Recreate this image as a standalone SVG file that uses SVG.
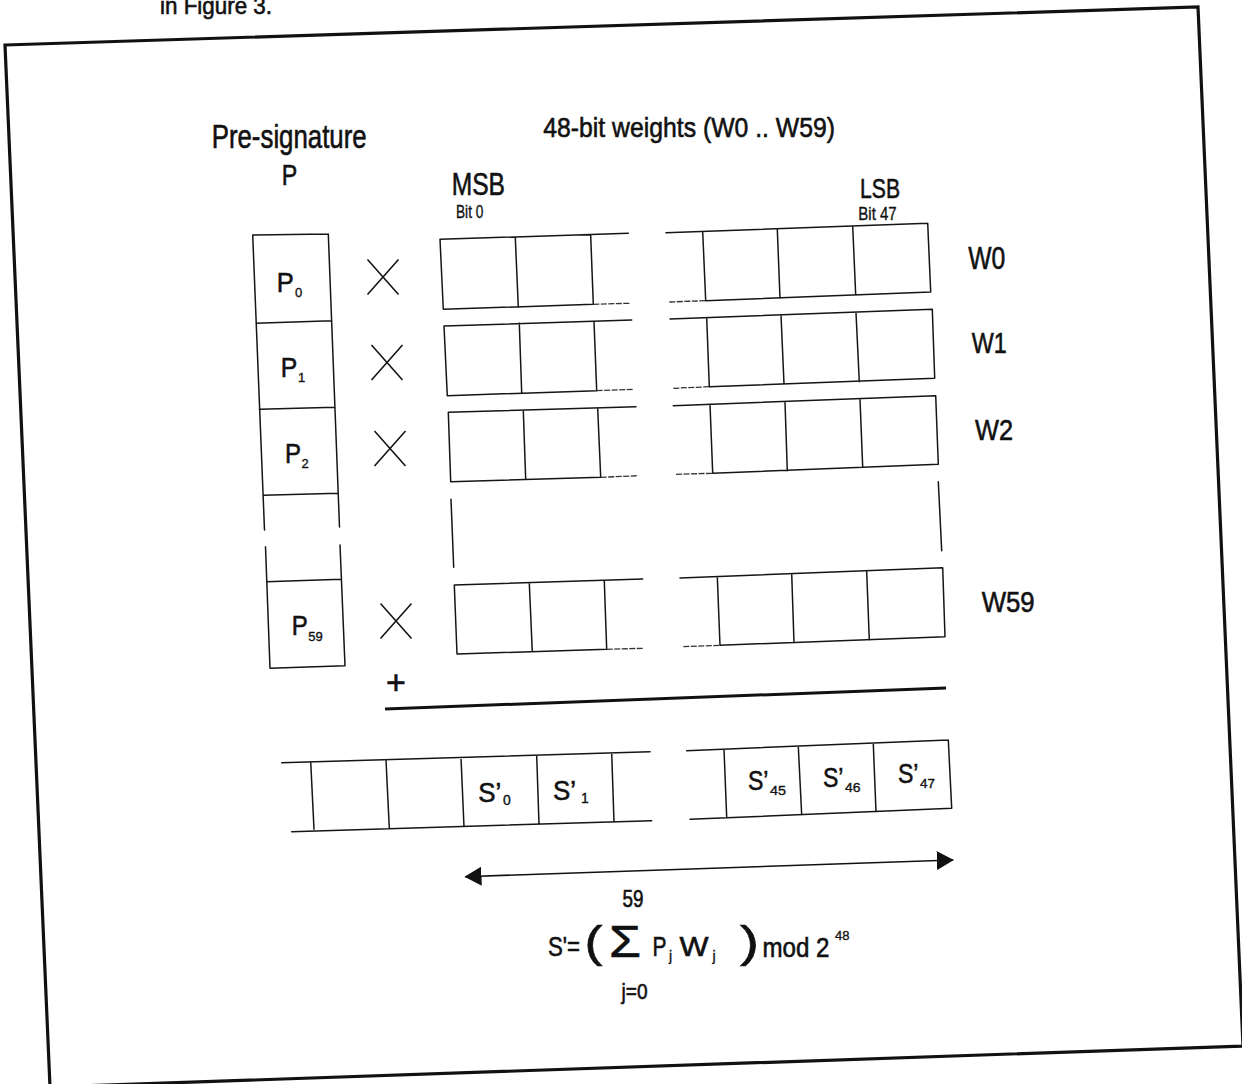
<svg xmlns="http://www.w3.org/2000/svg" width="1242" height="1084" viewBox="0 0 1242 1084">
<defs>
<style>
.ln{stroke:#151515;stroke-width:1.5;fill:none;stroke-linecap:round}
.ext{stroke:#333;stroke-width:1.3;fill:none;stroke-dasharray:6 1.5}
.x{stroke:#151515;stroke-width:1.6;fill:none}
.t{font-family:"Liberation Sans",Arial,Helvetica,sans-serif;fill:#111;stroke:#111;stroke-width:0.6}
.s{stroke-width:0.35}
</style>
<marker id="ah" viewBox="0 0 17 19" refX="16.5" refY="9.5" markerWidth="17" markerHeight="19" markerUnits="userSpaceOnUse" orient="auto-start-reverse">
<path d="M0,0 L17,9.5 L0,19 Z" fill="#111"/>
</marker>
</defs>
<rect width="1242" height="1084" fill="#fff"/>

<g id="page-text">
<text class="t" x="160" y="14" font-size="24" textLength="112" lengthAdjust="spacingAndGlyphs">in Figure 3.</text>
</g>

<g id="frame">
<polygon points="5,45 1198,7 1243,1046 50,1087" fill="none" stroke="#111" stroke-width="3.2"/>
</g>

<g id="labels">
<text id="label-presig" class="t" x="211.7" y="148.3" font-size="33" textLength="155" lengthAdjust="spacingAndGlyphs">Pre-signature</text>
<text id="label-p" class="t" x="281.7" y="185" font-size="30" textLength="15.5" lengthAdjust="spacingAndGlyphs">P</text>
<text id="label-weights" class="t" x="543.3" y="136.7" font-size="28" textLength="291.7" lengthAdjust="spacingAndGlyphs">48-bit weights (W0 .. W59)</text>
<text id="label-msb" class="t" x="451.7" y="195" font-size="32" textLength="53.3" lengthAdjust="spacingAndGlyphs">MSB</text>
<text id="label-bit0" class="t s" x="456" y="218.3" font-size="18.5" textLength="27.3" lengthAdjust="spacingAndGlyphs">Bit 0</text>
<text id="label-lsb" class="t" x="860" y="198.3" font-size="28" textLength="40" lengthAdjust="spacingAndGlyphs">LSB</text>
<text id="label-bit47" class="t s" x="858.3" y="220" font-size="18.5" textLength="38.4" lengthAdjust="spacingAndGlyphs">Bit 47</text>
</g>

<g id="p-column">
<path class="ln" d="M252.7,235 L264.5,530 M265.5,546.7 L270,668.3 M328.3,234 L339.5,527 M340,545 L345,665.7 M252.7,235 L328.3,234 M256,323.3 L331.7,320.7 M259.3,409.3 L335,407.3 M263.3,495.3 L338.3,493.3 M266.7,581.7 L341,579.3 M270,668.3 L345,665.7"/>
<g id="p0"><text class="t" x="276.7" y="291.7" font-size="28" textLength="17" lengthAdjust="spacingAndGlyphs">P</text><text class="t s" x="295" y="296.7" font-size="13">0</text></g>
<g id="p1"><text class="t" x="280.7" y="376.7" font-size="28" textLength="16.5" lengthAdjust="spacingAndGlyphs">P</text><text class="t s" x="298" y="381.7" font-size="13">1</text></g>
<g id="p2"><text class="t" x="285" y="462.7" font-size="28" textLength="16" lengthAdjust="spacingAndGlyphs">P</text><text class="t s" x="301.5" y="468" font-size="13">2</text></g>
<g id="p59"><text class="t" x="291.7" y="635" font-size="28" textLength="16" lengthAdjust="spacingAndGlyphs">P</text><text class="t s" x="308.3" y="640.7" font-size="12.5" textLength="14.5" lengthAdjust="spacingAndGlyphs">59</text></g>
</g>

<g id="multiply">
<path class="x" d="M367.5,259.5 L398.5,294.5 M367.5,294.5 L398.5,259.5"/>
<path class="x" d="M371.5,345 L402.5,380 M371.5,380 L402.5,345"/>
<path class="x" d="M374.5,431 L405.5,466 M374.5,466 L405.5,431"/>
<path class="x" d="M380.5,603.5 L411.5,638.5 M380.5,638.5 L411.5,603.5"/>
</g>

<g id="w0">
<path class="ln" d="M440,239.3 L628.3,233.3 M443.3,309.3 L593.3,304.3 M440,239.3 L443.3,309.3 M515.3,237.7 L518.3,307.3 M590.7,235.7 L593.3,304.3"/>
<path class="ext" d="M593.3,304.3 L629.3,303.3 M669.3,302 L705.7,300.7"/>
<path class="ln" d="M666,232.7 L927.7,223.3 M705.7,300.7 L930.7,292 M702.7,231.7 L705.7,300.7 M777.3,229.3 L780,298.3 M852.7,226.3 L855.7,295 M927.7,223.3 L930.7,292"/>
<text class="t" x="968.3" y="269.3" font-size="31" textLength="37" lengthAdjust="spacingAndGlyphs">W0</text>
</g>

<g id="w1">
<path class="ln" d="M444,326 L631.7,320 M447.3,395.7 L596.7,390.7 M444,326 L447.3,395.7 M519.3,323.3 L521.7,392.7 M594,321.7 L596.7,390.7"/>
<path class="ext" d="M596.7,390.7 L632.7,389.3 M673.3,388.3 L709.3,386.7"/>
<path class="ln" d="M670,319 L932.3,309.3 M709.3,386.7 L934.7,378.3 M706.7,317.7 L709.3,386.7 M781,315 L784,384 M856,312.7 L859.3,381.7 M932.3,309.3 L934.7,378.3"/>
<text class="t" x="971.7" y="353.3" font-size="30" textLength="35" lengthAdjust="spacingAndGlyphs">W1</text>
</g>

<g id="w2">
<path class="ln" d="M448.3,412.3 L636,406.7 M450.7,481.7 L600.7,477.3 M448.3,412.3 L450.7,481.7 M523.3,410.7 L525.7,479.3 M597.7,408.7 L600.7,477.3"/>
<path class="ext" d="M600.7,477.3 L638.3,475.7 M676,474.3 L712.7,473.3"/>
<path class="ln" d="M673.3,405.7 L935.7,395.7 M712.7,473.3 L938.3,464.3 M710,404.3 L712.7,473.3 M785,402.3 L787.3,470.7 M860,399.3 L862.7,467.3 M935.7,395.7 L938.3,464.3"/>
<text class="t" x="975" y="440" font-size="30" textLength="38" lengthAdjust="spacingAndGlyphs">W2</text>
</g>

<g id="w-gap">
<path class="ln" d="M451,499.3 L453.7,567.3 M938.3,481.7 L941.7,550.7"/>
</g>

<g id="w59">
<path class="ln" d="M454.3,585 L642.7,579 M457,654 L606.7,649.3 M454.3,585 L457,654 M529.3,583.3 L532.3,651.7 M604.3,581 L606.7,649.3"/>
<path class="ext" d="M606.7,649.3 L643.3,648.3 M683.3,646.7 L720,645.3"/>
<path class="ln" d="M680,578 L942.7,567.7 M720,645.3 L945,636.7 M717.3,576.7 L720,645.3 M791.7,574 L794,642.7 M866.7,571.7 L869.3,640 M942.7,567.7 L945,636.7"/>
<text class="t" x="981.7" y="611.7" font-size="30" textLength="53" lengthAdjust="spacingAndGlyphs">W59</text>
</g>

<g id="sum">
<text class="t" x="396" y="694" font-size="34" text-anchor="middle">+</text>
<path d="M385,709 L946,688" stroke="#111" stroke-width="3" fill="none"/>
</g>

<g id="s-row">
<path class="ln" d="M281.7,762.7 L650,751.7 M291.7,831.7 L651.7,820.7 M310.7,761.7 L314,829.3 M386,760 L389.3,828.3 M461,757.7 L464,826.7 M536.7,756 L539,824 M611.7,753.3 L614,821.7"/>
<path class="ln" d="M686.7,750.7 L948.3,740 M690,819.3 L951.7,808.3 M724,749.3 L726.7,817.3 M798.3,746.7 L801.7,815 M873.3,744 L876,811.7 M948.3,740 L951.7,808.3"/>
<g id="s0"><text class="t" x="478.3" y="801.7" font-size="27" textLength="23" lengthAdjust="spacingAndGlyphs">S’</text><text class="t s" x="503" y="805" font-size="14">0</text></g>
<g id="s1"><text class="t" x="553" y="800" font-size="27" textLength="23" lengthAdjust="spacingAndGlyphs">S’</text><text class="t s" x="581" y="802.5" font-size="14">1</text></g>
<g id="s45"><text class="t" x="748" y="790" font-size="27" textLength="20.5" lengthAdjust="spacingAndGlyphs">S’</text><text class="t s" x="770" y="795" font-size="13" textLength="16" lengthAdjust="spacingAndGlyphs">45</text></g>
<g id="s46"><text class="t" x="823" y="786.7" font-size="27" textLength="20.5" lengthAdjust="spacingAndGlyphs">S’</text><text class="t s" x="845" y="791.7" font-size="13" textLength="15.5" lengthAdjust="spacingAndGlyphs">46</text></g>
<g id="s47"><text class="t" x="898" y="783.3" font-size="27" textLength="20.5" lengthAdjust="spacingAndGlyphs">S’</text><text class="t s" x="920" y="788.3" font-size="13" textLength="15" lengthAdjust="spacingAndGlyphs">47</text></g>
</g>

<g id="connectors">
<path d="M465,876.7 L953.3,860" stroke="#111" stroke-width="1.6" fill="none" marker-start="url(#ah)" marker-end="url(#ah)"/>
</g>

<g id="formula">
<text class="t" x="548" y="956" font-size="27" textLength="32" lengthAdjust="spacingAndGlyphs">S'=</text>
<text class="t" x="584.5" y="957" font-size="44" textLength="18" lengthAdjust="spacingAndGlyphs">(</text>
<text class="t" x="609" y="956.7" font-size="44" textLength="32" lengthAdjust="spacingAndGlyphs">Σ</text>
<text class="t" x="622.5" y="906.7" font-size="23" textLength="21" lengthAdjust="spacingAndGlyphs">59</text>
<text class="t" x="621.5" y="999" font-size="22" textLength="26" lengthAdjust="spacingAndGlyphs">j=0</text>
<text class="t" x="652.5" y="956" font-size="27" textLength="14" lengthAdjust="spacingAndGlyphs">P</text>
<text class="t s" x="669" y="961" font-size="14">j</text>
<text class="t" x="679.5" y="956" font-size="27" textLength="29" lengthAdjust="spacingAndGlyphs">W</text>
<text class="t s" x="712.5" y="961" font-size="14">j</text>
<text class="t" x="740" y="957" font-size="44" textLength="19" lengthAdjust="spacingAndGlyphs">)</text>
<text class="t" x="762.5" y="956.7" font-size="27" textLength="67" lengthAdjust="spacingAndGlyphs">mod 2</text>
<text class="t s" x="835" y="940" font-size="13" textLength="14.5" lengthAdjust="spacingAndGlyphs">48</text>
</g>
</svg>
